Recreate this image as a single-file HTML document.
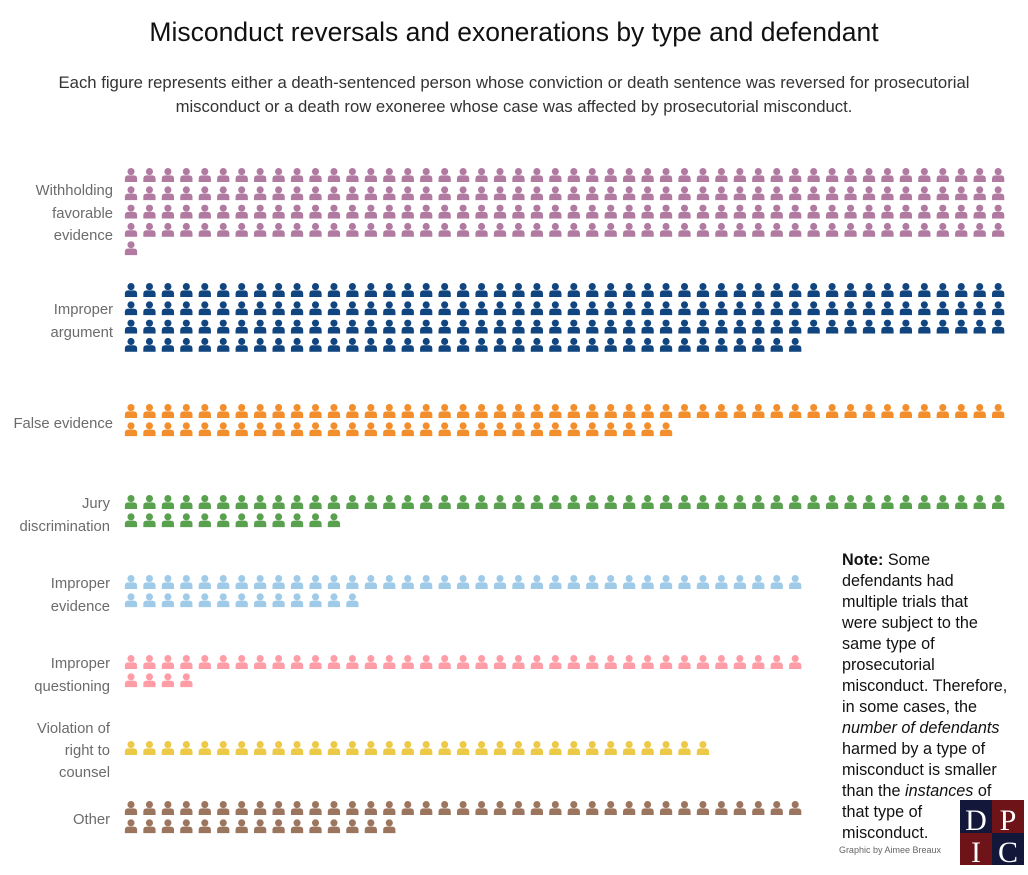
<!DOCTYPE html>
<html><head><meta charset="utf-8"><style>
body{margin:0;background:#fff;width:1028px;height:870px;overflow:hidden;font-family:"Liberation Sans",sans-serif;}
</style></head><body>
<svg id="s" width="1028" height="870" xmlns="http://www.w3.org/2000/svg">
<defs>
<symbol id="p" viewBox="0 0 12 13">
<circle cx="6" cy="3.3" r="3.3"/>
<path d="M0.3 13 L0.3 9.8 Q0.3 6.8 3.5 6.8 L8.5 6.8 Q11.7 6.8 11.7 9.8 L11.7 13 Z"/>
</symbol>
</defs>
<text x="514" y="41" text-anchor="middle" font-size="26.5" fill="#111">Misconduct reversals and exonerations by type and defendant</text>
<text x="514" y="88" text-anchor="middle" font-size="16.7" fill="#333">Each figure represents either a death-sentenced person whose conviction or death sentence was reversed for prosecutorial</text>
<text x="514" y="112" text-anchor="middle" font-size="16.7" fill="#333">misconduct or a death row exoneree whose case was affected by prosecutorial misconduct.</text>
<g font-size="14.8" fill="#6b6b6b" text-anchor="end">
<text x="113" y="195">Withholding</text><text x="113" y="218">favorable</text><text x="113" y="240">evidence</text>
<text x="113" y="314">Improper</text><text x="113" y="337">argument</text>
<text x="113" y="428">False evidence</text>
<text x="110" y="508">Jury</text><text x="110" y="531">discrimination</text>
<text x="110" y="588">Improper</text><text x="110" y="611">evidence</text>
<text x="110" y="668">Improper</text><text x="110" y="691">questioning</text>
<text x="110" y="733">Violation of</text><text x="110" y="755">right to</text><text x="110" y="777">counsel</text>
<text x="110" y="824">Other</text>
</g>
<g id="icons"></g>
<g font-size="16.2" fill="#111">
<text x="842" y="565"><tspan font-weight="bold">Note:</tspan> Some</text>
<text x="842" y="586">defendants had</text>
<text x="842" y="607">multiple trials that</text>
<text x="842" y="628">were subject to the</text>
<text x="842" y="649">same type of</text>
<text x="842" y="670">prosecutorial</text>
<text x="842" y="691">misconduct. Therefore,</text>
<text x="842" y="712">in some cases, the</text>
<text x="842" y="733" font-style="italic">number of defendants</text>
<text x="842" y="754">harmed by a type of</text>
<text x="842" y="775">misconduct is smaller</text>
<text x="842" y="796">than the <tspan font-style="italic">instances</tspan> of</text>
<text x="842" y="817">that type of</text>
<text x="842" y="838">misconduct.</text>
</g>
<text x="941" y="853" text-anchor="end" font-size="9" fill="#666">Graphic by Aimee Breaux</text>
<rect x="960" y="800" width="32" height="33" fill="#13173a"/>
<rect x="992" y="800" width="32" height="33" fill="#6e1318"/>
<rect x="960" y="833" width="32" height="32" fill="#6e1318"/>
<rect x="992" y="833" width="32" height="32" fill="#13173a"/>
<g font-family="Liberation Serif,serif" font-size="30" fill="#fff" text-anchor="middle">
<text x="976" y="830">D</text><text x="1008" y="830">P</text>
<text x="976" y="862">I</text><text x="1008" y="862">C</text>
</g>
</svg>
<script>
var g=document.getElementById('icons');
var groups=[
["#b07aa1",[48,48,48,48,1],175],
["#11457f",[48,48,48,37],290],
["#f28e2b",[48,30],411],
["#59a14f",[48,12],502],
["#a0cbe8",[37,13],582],
["#ff9da7",[37,4],662],
["#edc948",[32],748],
["#9c755f",[37,15],808]];
var h='';
groups.forEach(function(gr){
  var y=gr[2];
  gr[1].forEach(function(n,ri){
    var cy=y+ri*18.3;
    for(var i=0;i<n;i++){
      var cx=131+i*18.45;
      h+='<use href="#p" x="'+(cx-6.5).toFixed(2)+'" y="'+(cy-7).toFixed(2)+'" width="13" height="14" fill="'+gr[0]+'"/>';
    }
  });
});
g.innerHTML=h;
</script>
</body></html>
